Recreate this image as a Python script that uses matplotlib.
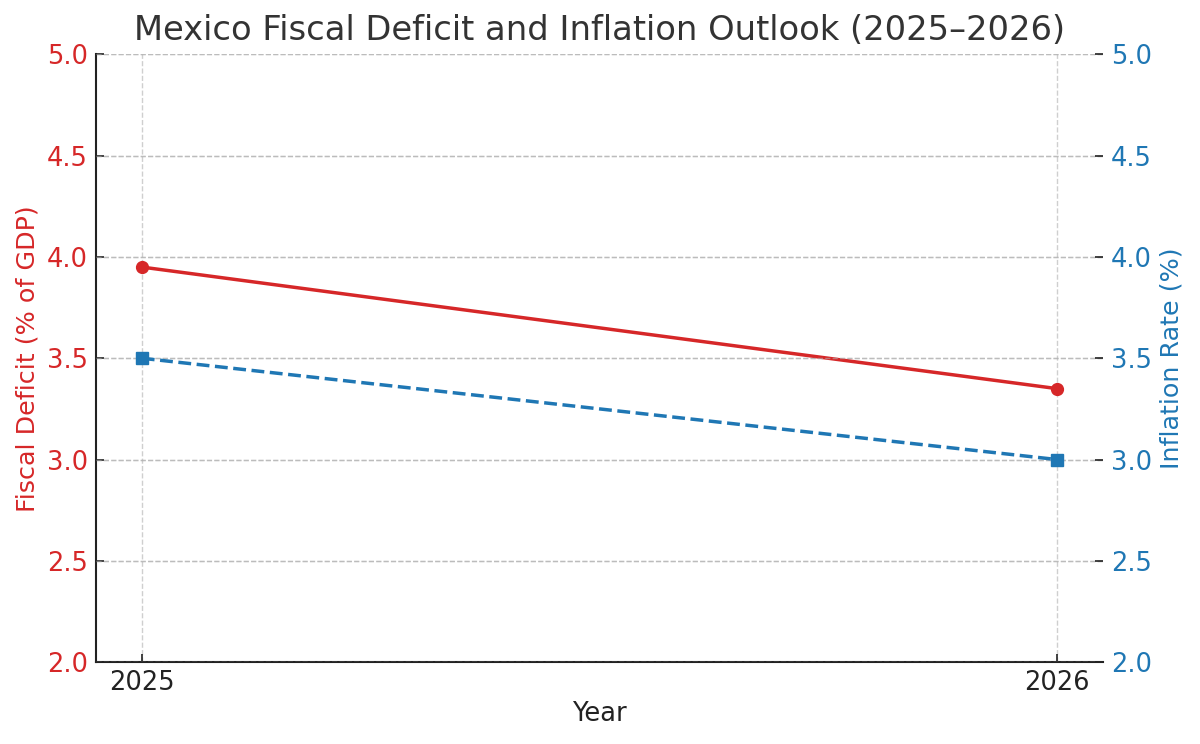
import numpy as np
import matplotlib.pyplot as plt

plt.rcParams['font.family'] = ['DejaVu Sans']

# data
years = [2025, 2026]
fiscal_deficit = [3.95, 3.35]
inflation = [3.5, 3.0]

red = "#d62728"
blue = "#1f77b4"

fig = plt.figure(figsize=(12, 7.44), dpi=100)
ax1 = fig.add_axes([0.080, 0.110, 0.839, 0.817])
ax2 = ax1.twinx()

ax1.plot(years, fiscal_deficit, color=red, marker="o", markersize=8.5, linewidth=2.5)
ax2.plot(years, inflation, color=blue, marker="s", markersize=8.5, linewidth=2.5, linestyle="--")

for ax in (ax1, ax2):
    ax.set_ylim(2.0, 5.0)
    ax.set_yticks(np.arange(2.0, 5.01, 0.5))
    ax.spines["top"].set_visible(False)
    ax.spines["right"].set_visible(False)
    ax.grid(True, linestyle="--", color="#b0b0b0", alpha=0.6, linewidth=1)

ax2.spines["left"].set_visible(False)
ax2.spines["bottom"].set_visible(False)
ax1.spines["left"].set_linewidth(1.5)
ax1.spines["bottom"].set_linewidth(1.5)
ax1.spines["left"].set_color("#222222")
ax1.spines["bottom"].set_color("#222222")

ax1.set_xticks(years)
ax1.set_xticklabels([str(y) for y in years])
ax1.tick_params(axis="x", labelsize=18.5, colors="#222222", direction="in", length=6, width=1.2, pad=6)
ax1.tick_params(axis="y", labelsize=18.5, labelcolor=red, color="#222222", direction="in", length=6, width=1.2, pad=6)
ax2.tick_params(axis="y", labelsize=18.5, labelcolor=blue, color="#222222", direction="in", length=6, width=1.2, pad=6)

ax1.set_xlabel("Year", fontsize=18.5, color="#222222", labelpad=3)
ax1.set_ylabel("Fiscal Deficit (% of GDP)", fontsize=18.3, color=red, labelpad=5)
ax2.set_ylabel("Inflation Rate (%)", fontsize=18.3, color=blue, labelpad=5)

ax1.set_title("Mexico Fiscal Deficit and Inflation Outlook (2025\u20132026)", fontsize=24.3, color="#333333", pad=10)

fig.savefig("out.png", dpi=100)
plt.close(fig)
